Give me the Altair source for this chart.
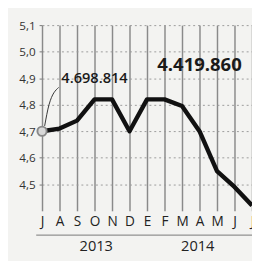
import altair as alt
import pandas as pd

months = ["J", "A", "S", "O", "N", "D", "E", "F", "M", "A", "M", "J", "J"]
values = [4.70, 4.71, 4.74, 4.82, 4.82, 4.70, 4.82, 4.82, 4.795, 4.70, 4.55, 4.49, 4.42]
idx = list(range(len(months)))

years = ["2013", "2014"]
year_x = [3.1, 8.9]

labels = ["4.698.814", "4.419.860"]
label_x = [3.0, 9.0]
label_y = [4.90, 4.95]

leader_x = [0.15, 0.4, 0.95]
leader_y = [4.72, 4.80, 4.865]

y_ticks = [4.5, 4.6, 4.7, 4.8, 4.9, 5.0, 5.1]

FONT = "Open Sans"
df = pd.DataFrame({"i": idx, "m": months, "v": values})

x_scale = alt.Scale(domain=[0, 12], nice=False, zero=False)
y_scale = alt.Scale(domain=[4.4, 5.1], nice=False, zero=False)
month_expr = "[" + ",".join("'%s'" % m for m in months) + "][round(datum.value)]"

base = alt.Chart(df)

line = base.mark_line(color="#111111", strokeWidth=4.5, strokeJoin="round").encode(
    x=alt.X("i:Q", scale=x_scale, title=None,
            axis=alt.Axis(values=idx, tickCount=30, labelExpr=month_expr, grid=True,
                          gridColor="#8a8a8a", gridWidth=1.5, domain=False, ticks=False,
                          labelPadding=4, labelOverlap=False, labelFlush=False,
                          labelFontSize=14, labelColor="#222222", labelFont=FONT)),
    y=alt.Y("v:Q", scale=y_scale, title=None,
            axis=alt.Axis(values=y_ticks, tickCount=30,
                          labelExpr="replace(format(datum.value, '.1f'), '.', ',')",
                          grid=True, gridColor="#9a9a9a", gridDash=[2, 3], gridWidth=1,
                          domain=False, ticks=True, tickSize=3, tickColor="#777777",
                          labelOverlap=False, labelFlush=False,
                          labelPadding=4, labelFontSize=12, labelColor="#333333", labelFont=FONT)),
)

first = alt.Chart(df.iloc[[0]]).mark_point(size=90, filled=True, fill="#d8d8d8",
                                            stroke="#888888", strokeWidth=2, opacity=1).encode(
    x=alt.X("i:Q", scale=x_scale), y=alt.Y("v:Q", scale=y_scale))

leader = alt.Chart(pd.DataFrame({"x": leader_x, "y": leader_y})).mark_line(
    color="#333333", strokeWidth=1, interpolate="monotone").encode(
    x=alt.X("x:Q", scale=x_scale), y=alt.Y("y:Q", scale=y_scale))

lab_df = pd.DataFrame({"t": labels, "x": label_x, "y": label_y})
lab1 = alt.Chart(lab_df.iloc[[0]]).mark_text(font=FONT, fontSize=15, fontWeight=600,
                                              color="#1a1a1a").encode(
    x=alt.X("x:Q", scale=x_scale), y=alt.Y("y:Q", scale=y_scale), text="t:N")
lab2 = alt.Chart(lab_df.iloc[[1]]).mark_text(font=FONT, fontSize=19, fontWeight="bold",
                                              color="#1a1a1a").encode(
    x=alt.X("x:Q", scale=x_scale), y=alt.Y("y:Q", scale=y_scale), text="t:N")

year_df = pd.DataFrame({"t": years, "x": year_x})
year_text = alt.Chart(year_df).mark_text(font=FONT, fontSize=15, color="#222222").encode(
    x=alt.X("x:Q", scale=x_scale), y=alt.value(227), text="t:N")

year_rule = alt.Chart(year_df.iloc[[0]]).mark_rule(color="#777777", strokeWidth=1).encode(
    x=alt.value(-6), x2=alt.value(218), y=alt.value(216))

chart = alt.layer(line, leader, first, lab1, lab2, year_text, year_rule).properties(
    width=216, height=191,
    autosize=alt.AutoSizeParams(type="none"),
    padding={"left": 35, "top": 14, "right": 0, "bottom": 48},
    background="#f3f3f1",
).configure_view(stroke=None)

chart.save("out.html", embed_options={"renderer": "svg", "actions": False})
